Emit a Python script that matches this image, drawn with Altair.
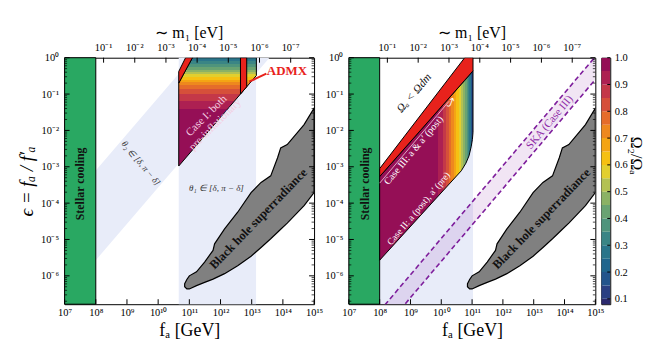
import altair as alt
import numpy as np
import pandas as pd

SERIF = "Liberation Serif"

# ---------------- data (log10 values) ----------------
Y_MIN_LOG = -6.78                     # lower edge of eps axis
M_OFFSET = 7.25                       # log10(fa * m1) relation used for top axis

stellar_fa = [7.0, 8.0]
theta1_fa = [10.66, 13.14]
theta2_fa = [8.0, 11.1, 13.57]
theta2_hi = [-3.1, 0.0, 0.0]
theta2_lo = [-5.57, -2.47, 0.0]

bh_fa = [10.85, 10.92, 11.0, 11.23, 11.49, 11.76, 11.81, 12.13, 12.55, 12.98, 13.30, 13.61, 13.83, 13.93, 14.14, 14.68, 15.0]
bh_hi = [-6.22, -6.10, -6.00, -5.89, -5.62, -5.30, -5.12, -4.71, -4.25, -3.71, -3.43, -3.25, -2.75, -2.48, -2.39, -1.84, -1.39]
bh_lo = [-6.30, -6.36, -6.36, -6.27, -6.18, -6.09, -6.07, -5.94, -5.72, -5.46, -5.22, -4.98, -4.80, -4.72, -4.55, -4.07, -3.71]

caseI_eps = [-2.98, -0.70, -0.49, 0.0]
caseI_left = [10.66, 10.66, 10.79, 11.10]
caseI_right = [10.66, 12.94, 13.15, 13.15]
caseI_edges = [0.0, -0.10, -0.18, -0.25, -0.33, -0.39, -0.45, -0.52, -0.60, -0.67, -0.74, -0.87, -1.01, -1.20, -1.42, -2.98]
caseI_omega = [0.30, 0.35, 0.40, 0.45, 0.50, 0.55, 0.60, 0.65, 0.70, 0.75, 0.80, 0.85, 0.90, 0.95, 1.00]

redL_eps = [-0.70, -0.38, 0.0]
redL_left = [10.66, 10.66, 10.88]
redL_right = [10.66, 10.86, 11.10]

admx_fa = [12.64, 12.84]
admx_hi = [0.0, 0.0]
admx_lo = [-1.0, -0.80]
admx_ptr_fa = [13.47, 12.92]
admx_ptr_eps = [-0.44, -0.66]

blue2_fa = [8.0, 10.76, 11.03]
blue2_hi = [-3.05, 0.0, 0.0]
blue2_lo = [Y_MIN_LOG, Y_MIN_LOG, Y_MIN_LOG]
ska_fa = [8.0, 15.0]
ska_hi = [-6.97, 0.03]
ska_lo = [-7.6, -0.6]

caseIII_fa = [8.0, 10.65, 10.80, 10.90, 10.97, 11.01, 11.03]
caseIII_hi = [-3.27, -0.73, -0.59, -0.49, -0.42, -0.38, -0.36]
caseIII_lo = [-5.57, -3.11, -2.90, -2.70, -2.45, -2.25, -2.05]
caseIII_edges = [8.0, 9.90, 10.06, 10.16, 10.24, 10.32, 10.40, 10.48, 10.56, 10.65, 10.71, 10.77, 10.82, 10.87, 10.91, 10.95, 10.98, 11.00, 11.03]
caseIII_omega = [1.0, 0.95, 0.90, 0.85, 0.80, 0.75, 0.70, 0.65, 0.60, 0.55, 0.50, 0.45, 0.40, 0.35, 0.30, 0.25, 0.20, 0.15]

red2_fa = [8.0, 10.76, 11.03]
red2_hi = [-3.05, 0.0, 0.0]
red2_lo = [-3.27, -0.62, -0.36]

divider_fa = [8.0, 10.25]
divider_eps = [-3.45, -1.20]

cmap_top = [0.10, 0.15, 0.20, 0.25, 0.30, 0.35, 0.40, 0.45, 0.50, 0.55, 0.60, 0.65, 0.70, 0.75, 0.80, 0.85, 0.90, 0.95, 1.00]
cmap_colors = ["#2c2a6e", "#2a3f82", "#23548c", "#20658d", "#2a758a", "#3a8585", "#4f947c", "#69a372",
               "#8bb265", "#b3c152", "#e2cf2e", "#f6c012", "#f4a414", "#ee881e", "#e56c2a", "#d6503a",
               "#c43848", "#ad2052", "#950f56"]
cb_ticks = [0.1, 0.2, 0.3, 0.4, 0.5, 0.6, 0.7, 0.8, 0.9, 1.0]

x_major = [7, 8, 9, 10, 11, 12, 13, 14, 15]
y_major = [-6, -5, -4, -3, -2, -1, 0]
m_exps = [-1, -2, -3, -4, -5, -6, -7]

# ---------------- helpers ----------------
W1, W2, H, WC = 251, 248, 248, 9
YMIN = 10 ** Y_MIN_LOG
xscale = alt.Scale(type="log", domain=[1e7, 1e15], nice=False)
yscale = alt.Scale(type="log", domain=[YMIN, 1.0], nice=False)
cmap = dict(zip([round(v, 2) for v in cmap_top], cmap_colors))

SUP = str.maketrans("-0123456789", "⁻⁰¹²³⁴⁵⁶⁷⁸⁹")


def sup_expr(inner):
    s = f"(''+round({inner}))"
    for a, b in [("-", "⁻"), ("1", "¹"), ("1", "¹"), ("0", "⁰"), ("2", "²"), ("3", "³"), ("4", "⁴"),
                 ("5", "⁵"), ("6", "⁶"), ("7", "⁷"), ("8", "⁸"), ("9", "⁹")]:
        s = f"replace({s},'{a}','{b}')"
    return "'10' + " + s


LOG10 = "log(datum.value)/LN10"


def p10(a):
    return [float(v) for v in 10.0 ** np.array(a, dtype=float)]


XAX = alt.Axis(values=p10(x_major), labelExpr=sup_expr(LOG10), ticks=False, domain=False, grid=False,
               labelFlush=False, labelOverlap=False, labelPadding=3, labelFont=SERIF, labelFontSize=10.5,
               labelColor="black", title="fₐ [GeV]", titleFont=SERIF, titleFontSize=18,
               titleFontWeight="normal", titlePadding=4, titleColor="black")


def make_yax(title):
    kw = dict(values=p10(y_major), labelExpr=sup_expr(LOG10), ticks=False, domain=False, grid=False,
              labelFlush=False, labelOverlap=False, labelPadding=6, labelFont=SERIF, labelFontSize=10.5,
              labelColor="black", titleFont=SERIF, titleFontSize=19, titleFontStyle="italic",
              titleFontWeight="normal", titlePadding=4, titleColor="black")
    kw["title"] = title
    return alt.Axis(**kw)


AX = {"y": make_yax("ϵ = fₐ / f′ₐ")}


def X(f):
    return alt.X(f"{f}:Q", scale=xscale, axis=XAX)


def Y(f):
    return alt.Y(f"{f}:Q", scale=yscale, axis=AX["y"])


def vband(xl, top, bot, **kw):
    df = pd.DataFrame({"x": p10(xl), "y": p10(top), "y2": p10(bot)})
    return alt.Chart(df).mark_area(clip=True, **kw).encode(x=X("x"), y=Y("y"), y2="y2")


def hband(yl, left, right, **kw):
    df = pd.DataFrame({"y": p10(yl), "x": p10(left), "x2": p10(right)})
    return alt.Chart(df).mark_area(clip=True, orient="horizontal", **kw).encode(y=Y("y"), x=X("x"), x2="x2")


def line(xl, yl, **kw):
    df = pd.DataFrame({"x": p10(xl), "y": p10(yl)})
    return alt.Chart(df).mark_line(clip=True, **kw).encode(x=X("x"), y=Y("y"))


def txt(lx, ly, s, angle=0, **kw):
    kw.setdefault("font", SERIF)
    df = pd.DataFrame({"x": [10.0 ** lx], "y": [10.0 ** ly], "t": [s]})
    return alt.Chart(df).mark_text(angle=angle, **kw).encode(x=X("x"), y=Y("y"), text="t:N")


def gradient(edges, values, vertical, lo, hi):
    stops = []
    for i, v in enumerate(values):
        c = cmap[round(v, 2)]
        for e in (edges[i], edges[i + 1]):
            off = (e - lo) / (hi - lo)
            if vertical:
                off = 1 - off
            stops.append({"offset": float(min(max(off, 0), 1)), "color": c})
    stops.sort(key=lambda s: s["offset"])
    if vertical:
        return {"gradient": "linear", "x1": 0, "x2": 0, "y1": 0, "y2": 1, "stops": stops}
    return {"gradient": "linear", "x1": 0, "x2": 1, "y1": 0, "y2": 0, "stops": stops}


def ticks(W):
    ymaj = p10(y_major)
    ymin = [k * 10.0 ** e for e in range(-7, 0) for k in range(2, 10) if k * 10.0 ** e >= YMIN]
    out = []
    for vals, L, sw in [(ymaj, 5, 1.0), (ymin, 2.5, 0.7)]:
        df = pd.DataFrame({"v": vals})
        out.append(alt.Chart(df).mark_rule(color="black", strokeWidth=sw).encode(y=Y("v"), x=alt.value(0), x2=alt.value(L)))
        out.append(alt.Chart(df).mark_rule(color="black", strokeWidth=sw).encode(y=Y("v"), x=alt.value(W - L), x2=alt.value(W)))
    dfx = pd.DataFrame({"v": p10(x_major)})
    out.append(alt.Chart(dfx).mark_rule(color="black").encode(x=X("v"), y=alt.value(H - 5), y2=alt.value(H)))
    dft = pd.DataFrame({"v": p10([M_OFFSET - e for e in m_exps]),
                        "t": ["10" + str(e).translate(SUP) for e in m_exps]})
    out.append(alt.Chart(dft).mark_rule(color="black").encode(x=X("v"), y=alt.value(0), y2=alt.value(5)))
    out.append(alt.Chart(dft).mark_text(font=SERIF, fontSize=10.5, baseline="middle").encode(
        x=X("v"), y=alt.value(-10), text="t:N"))
    # top axis title
    out.append(alt.Chart(pd.DataFrame({"t": ["∼ m₁ [eV]"]})).mark_text(
        font=SERIF, fontSize=16, baseline="middle", align="center").encode(
        x=alt.value(W / 2), y=alt.value(-25), text="t:N"))
    return out


def rect_band(fa, color, **kw):
    df = pd.DataFrame({"x": p10([fa[0]]), "x2": p10([fa[1]]), "y": [YMIN], "y2": [1.0]})
    return alt.Chart(df).mark_rect(color=color, **kw).encode(x=X("x"), x2="x2", y=Y("y"), y2="y2")


BLUE = "#e8ecf9"
RED = "#e8221c"
GREEN = "#29a862"

# ---------------- left panel ----------------
AX["y"] = make_yax("ϵ = fₐ / f′ₐ")
left_layers = [
    vband(theta2_fa, theta2_hi, theta2_lo, color=BLUE),
    rect_band(theta1_fa, BLUE),
    rect_band(stellar_fa, GREEN, stroke="black", strokeWidth=1),
    vband(bh_fa, bh_hi, bh_lo, color="#808080", stroke="black", strokeWidth=1.2),
    hband(caseI_eps, caseI_left, caseI_right,
          fill=gradient(caseI_edges, caseI_omega, True, -2.98, 0.0), stroke="black", strokeWidth=1),
    hband(redL_eps, redL_left, redL_right, color=RED, stroke="black", strokeWidth=1),
    vband(admx_fa, admx_hi, admx_lo, color=RED, stroke="black", strokeWidth=1),
    line(admx_ptr_fa, admx_ptr_eps, color=RED, strokeWidth=2),
    txt(14.13, -0.36, "ADMX", color=RED, fontSize=13, fontWeight="bold"),
    txt(11.55, -1.60, "Case I: both\npre-inflationary", angle=315, color="#f4cde0", fontSize=11,
        lineBreak="\n", lineHeight=12.5, baseline="middle"),
    txt(11.87, -3.58, "θ₁ ∈ [δ, π − δ]", color="#333333", fontSize=9, fontStyle="italic"),
    txt(9.45, -2.90, "θ₂ ∈ [δ, π − δ]", angle=50, color="#333333", fontSize=9, fontStyle="italic"),
    txt(7.51, -3.47, "Stellar cooling", angle=270, color="#111111", fontSize=12, fontWeight="bold"),
    txt(13.21, -4.43, "Black hole superradiance", angle=314, color="#111111", fontSize=12.5, fontWeight="bold"),
] + ticks(W1)
left = alt.layer(*left_layers).properties(width=W1, height=H)

# ---------------- right panel ----------------
AX["y"] = make_yax(None)
right_layers = [
    vband(blue2_fa, blue2_hi, blue2_lo, color=BLUE),
    vband(ska_fa, ska_hi, ska_lo, color="#a050b8", opacity=0.15),
    line(ska_fa, ska_hi, color="#7e1e9c", strokeWidth=1.6, strokeDash=[5, 3]),
    line(ska_fa, ska_lo, color="#7e1e9c", strokeWidth=1.6, strokeDash=[5, 3]),
    rect_band(stellar_fa, GREEN, stroke="black", strokeWidth=1),
    vband(bh_fa, bh_hi, bh_lo, color="#808080", stroke="black", strokeWidth=1.2),
    vband(caseIII_fa, caseIII_hi, caseIII_lo,
          fill=gradient(caseIII_edges, caseIII_omega, False, 8.0, 11.03), stroke="black", strokeWidth=1),
    vband(red2_fa, red2_hi, red2_lo, color=RED, stroke="black", strokeWidth=1),
    line(divider_fa, divider_eps, color="#f3d0e0", strokeWidth=0.8),
    txt(9.13, -0.98, "Ωₐ < Ωdm", angle=310, color="#111111", fontSize=11.5, fontStyle="italic"),
    txt(9.10, -2.55, "Case III: a & a′ (post)", angle=310, color="white", fontSize=10),
    txt(9.26, -4.15, "Case II: a (post), a′ (pre)", angle=310, color="white", fontSize=9.5),
    txt(10.30, -1.25, "⤴", angle=20, color="white", fontSize=13, font="DejaVu Sans"),
    txt(13.52, -1.78, "SKA (Case III)", angle=310, color="#8e2aa8", fontSize=11),
    txt(7.52, -3.47, "Stellar cooling", angle=270, color="#111111", fontSize=12, fontWeight="bold"),
    txt(13.25, -4.43, "Black hole superradiance", angle=314, color="#111111", fontSize=12.5, fontWeight="bold"),
] + ticks(W2)
right = alt.layer(*right_layers).properties(width=W2, height=H)

# ---------------- colour bar ----------------
cb_df = pd.DataFrame({"lo": [round(v - 0.05, 2) for v in cmap_top], "hi": cmap_top, "c": cmap_colors})
cbscale = alt.Scale(domain=[0.08, 1.0], nice=False, zero=False)
CBAX = alt.Axis(orient="right", values=cb_ticks, format=".1f", ticks=False, domain=False, grid=False,
                labelPadding=4, labelFont=SERIF, labelFontSize=10.5, labelColor="black",
                labelFlush=False, labelOverlap=False,
                title="Ω₂/Ωₐ", titleFont=SERIF, titleFontSize=16, titleFontWeight="normal",
                titleAngle=90, titlePadding=0, titleY=98, titleColor="black")
cb = alt.Chart(cb_df).mark_rect(clip=True).encode(
    y=alt.Y("lo:Q", scale=cbscale, axis=CBAX),
    y2="hi",
    color=alt.Color("c:N", scale=None),
)
cb_tk = alt.Chart(pd.DataFrame({"v": cb_ticks})).mark_rule(color="black").encode(
    y=alt.Y("v:Q", scale=cbscale, axis=CBAX), x=alt.value(WC - 3), x2=alt.value(WC))
cbar = alt.layer(cb, cb_tk).properties(width=WC, height=H)

chart = alt.hconcat(
    left,
    alt.hconcat(right, cbar, spacing=6, bounds="flush"),
    spacing=35, bounds="flush",
).properties(
    padding={"left": 17, "top": 23, "right": 5, "bottom": 5},
    background="white",
).configure_view(stroke="black", strokeWidth=1)

chart.save("out.html", embed_options={"renderer": "svg", "actions": False})
